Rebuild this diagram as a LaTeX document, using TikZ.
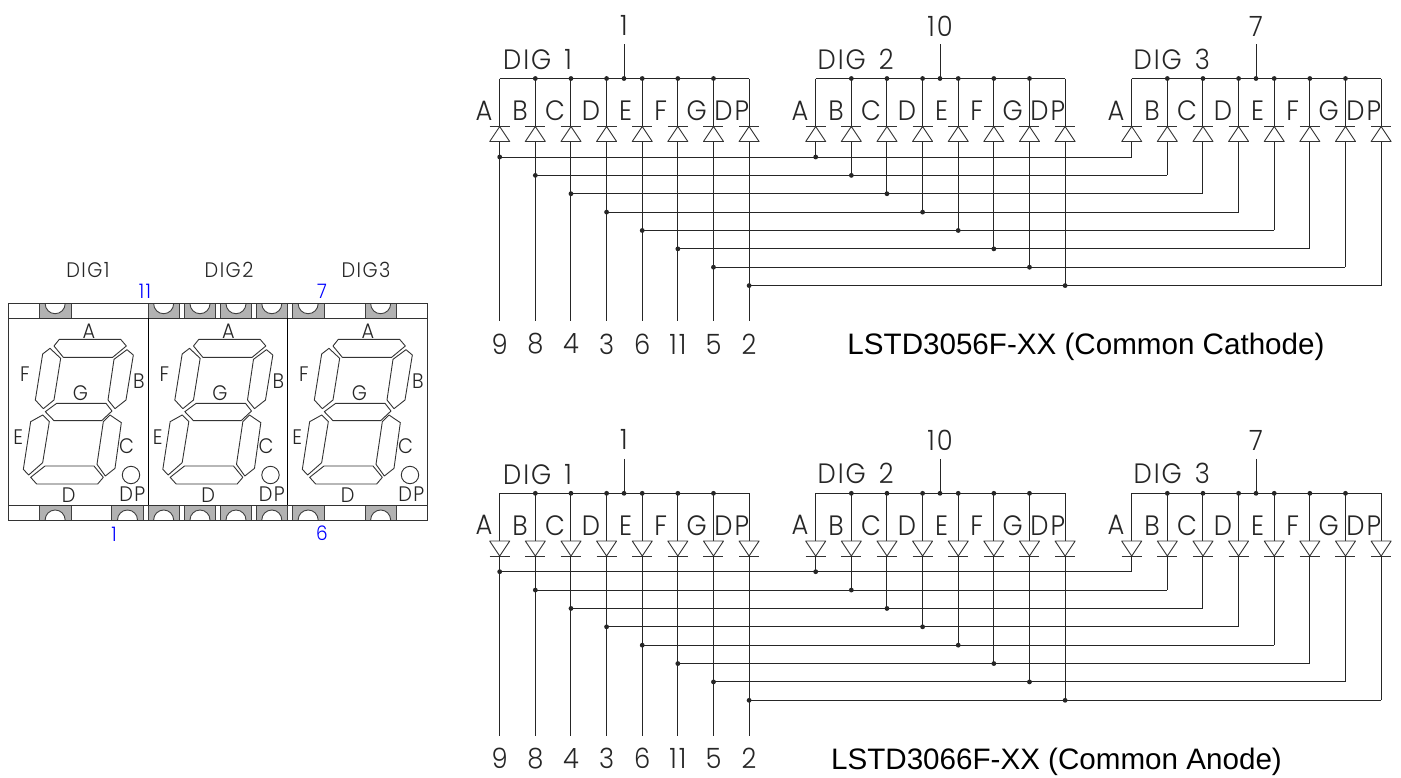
\documentclass[tikz,border=0pt]{standalone}
\usepackage{fontspec}
\setmainfont{Liberation Sans}
\newfontfamily\cadfont{Poppins Light}[FakeStretch=0.92,LetterSpace=7]
\newcommand{\cadsize}[1]{\cadfont\fontsize{#1}{#1}\selectfont}
\definecolor{padgray}{HTML}{B2B2B2}
\tikzset{
  wire/.style={line width=1pt,draw=black!85},
  seg/.style={line width=.9pt,draw=black!80,line join=round},
  dot/.style={circle,fill=black!85,draw=none,minimum size=4.8pt,inner sep=0pt},
  big/.style={inner sep=0,text=black!85,font=\cadsize{28}},
  mid/.style={inner sep=0,text=black!85,font=\cadsize{21}},
  pinno/.style={inner sep=0,text=blue,font=\cadsize{20}},
  title/.style={inner sep=0,text=black,font=\fontsize{29.6}{30}\selectfont},
  pad/.style={fill=padgray,draw=black!75,line width=.9pt},
  blank/.style={fill=white,draw=black!75,line width=.9pt}
}
\newcommand{\padtop}[2]{%
  \path[pad] (#1,303.7) rectangle (#2,318.3);
  \path[fill=white,draw=black!75,line width=.9pt] ({(#1+#2)/2-10},303.7) arc[start angle=180,end angle=360,radius=10pt];
}
\newcommand{\padbot}[2]{%
  \path[pad] (#1,505.3) rectangle (#2,520);
  \path[fill=white,draw=black!75,line width=.9pt] ({(#1+#2)/2-10},520) arc[start angle=180,end angle=0,radius=10pt];
}
\newcommand{\schem}[9]{%
 \foreach \g/\gx/\num/\dign/\numy in {0/0/1/1/0,1/316/10/2/1,2/632/7/3/1}{
   \coordinate (#1busL\g) at ({499.7+\gx},#2);
   \coordinate (#1busR\g) at ({749+\gx},#2);
   \draw[wire] (#1busL\g) -- (#1busR\g);
   \coordinate (#1stem\g) at ({624+\gx},#2);
   \coordinate (#1stemtop\g) at ({624+\gx},{#2-34.5});
   \draw[wire] (#1stemtop\g) -- (#1stem\g);
   \node[dot] (#1stemdot\g) at (#1stem\g) {};
   \node[big] (#1num\g) at ({624+\gx},{#2-53.5+\numy*1}) {\num};
   \node[big,anchor=west] (#1dig\g) at ({(\g==0?503:501.5)+\gx},{#2-18.5-\numy*1}) {DIG\hspace{13pt}\dign};
   \foreach \i/\lab/\lx in {0/A/484,1/B/520,2/C/555,3/D/591,4/E/625.7,5/F/660.7,6/G/696.7,7/DP/731.7}{
     \pgfmathsetmacro{\xx}{499.7+35.63*\i+\gx}
     \pgfmathsetmacro{\yy}{#5+18.37*\i}
     \node[big] (#1lab\g\i) at ({\lx+\gx},{#2+32}) {\lab};
     \coordinate (#1b\g\i) at (\xx,#2);
     \coordinate (#1p\g\i) at (\xx,#3);
     \coordinate (#1q\g\i) at (\xx,#4);
     \coordinate (#1r\g\i) at (\xx,\yy);
     \draw[wire] (#1b\g\i) -- (#1p\g\i);
     \ifnum#8=1
       \draw[seg] (\xx-10,#3) -- (\xx+10,#3);
       \draw[seg] (#1p\g\i) -- (\xx-10,#4) -- (\xx+10,#4) -- cycle;
     \else
       \draw[seg] (\xx-10,#4) -- (\xx+10,#4);
       \draw[seg] (#1q\g\i) -- (\xx-10,#3) -- (\xx+10,#3) -- cycle;
     \fi
     \ifnum\i>0 \ifnum\i<7 \node[dot] (#1bd\g\i) at (#1b\g\i) {}; \fi\fi
     \ifnum\g=0
       \coordinate (#1e\i) at (\xx,#6);
       \draw[wire] (#1q\g\i) -- (#1e\i);
     \else
       \draw[wire] (#1q\g\i) -- (#1r\g\i);
     \fi
     \ifnum\g<2 \node[dot] (#1rd\g\i) at (#1r\g\i) {}; \fi
   }
 }
 \foreach \i in {0,...,7}{\draw[wire] (#1r0\i) -- (#1r2\i);}
 \foreach \i/\pin in {0/9,1/8,2/4,3/3,4/6,5/11,6/5,7/2}{
   \node[big] (#1pin\i) at (#1e\i |- 0,#9) {\pin};
 }
}
\begin{document}
\begin{tikzpicture}[x=1pt,y=-1pt]
\useasboundingbox (0,0) rectangle (1401,777);
\fill[white] (0,0) rectangle (1401,777);

\path[blank] (8.7,303.7) rectangle (427.3,318.3);
\path[blank] (8.7,505.3) rectangle (427.3,520);
\padtop{39.3}{71}
\padtop{148}{179.3}\padtop{184.3}{215.7}\padtop{220.3}{251.7}\padtop{256.3}{287.3}
\padtop{292.3}{324}\padtop{365}{396.3}
\padbot{39.3}{71}\padbot{111.7}{143.3}
\padbot{148}{179.3}\padbot{184.3}{215.7}\padbot{220.3}{251.7}\padbot{256.3}{287.3}
\padbot{292.3}{324}\padbot{365}{396.3}
\draw[seg] (8.7,303.7) rectangle (427.3,520);
\draw[seg] (8.7,318.3) -- (427.3,318.3);
\draw[seg] (8.7,505.3) -- (427.3,505.3);
\draw[line width=1pt,black] (148,318.3) -- (148,505.3);
\draw[line width=1pt,black] (287.3,318.3) -- (287.3,505.3);

\foreach \d/\dx/\n in {1/0/1,2/139.5/2,3/279/3}{
 \begin{scope}[shift={(\dx pt,-250pt)},x=0.33333pt,y=-0.33333pt]
  \draw[seg] (178,268)--(362,268)--(379,288)--(338,322)--(190,322)--(162,288)--cycle;
  \draw[seg] (381,299)--(400,315)--(378,450)--(345,476)--(324,450)--(342,328)--cycle;
  \draw[seg] (150,295)--(182,325)--(162,450)--(130,476)--(106,450)--(128,312)--cycle;
  \draw[seg] (170,460)--(318,460)--(336,483)--(305,512)--(162,512)--(136,485)--cycle;
  \draw[seg] (128,495)--(148,515)--(128,638)--(86,675)--(70,658)--(92,515)--cycle;
  \draw[seg] (330,495)--(364,518)--(345,655)--(316,678)--(291,643)--(310,515)--cycle;
  \draw[seg] (135,648)--(282,648)--(310,682)--(293,702)--(110,702)--(92,682)--cycle;
  \node[seg,draw,circle,minimum size=17.4pt,inner sep=0] (dpc\d) at (393,675) {};
  \node[mid] (sA\d) at (267,244) {A};
  \node[mid] (sF\d) at (75,372) {F};
  \node[mid] (sB\d) at (417,392) {B};
  \node[mid] (sG\d) at (241,430) {G};
  \node[mid] (sE\d) at (55,560) {E};
  \node[mid] (sC\d) at (380,588) {C};
  \node[mid] (sD\d) at (206,735) {D};
  \node[mid] (sP\d) at (397,733) {DP};
 \end{scope}
}
\node[mid] (d1) at (88,270) {DIG1};
\node[mid] (d2) at (229,270) {DIG2};
\node[mid] (d3) at (366,270) {DIG3};
\node[pinno] (n11) at (145,291) {11};
\node[pinno] (n7) at (322,291) {7};
\node[pinno] (n1) at (114,534) {1};
\node[pinno] (n6) at (322,533) {6};

\schem{T}{78.5}{126.5}{141.5}{157}{321}{0}{1}{344}
\schem{U}{493.3}{541}{556}{571.7}{735.7}{0}{0}{758.3}
\node[title] (t1) at (1086,347) {LSTD3056F-XX (Common Cathode)};
\node[title] (t2) at (1056.5,762) {LSTD3066F-XX (Common Anode)};
\end{tikzpicture}
\end{document}
